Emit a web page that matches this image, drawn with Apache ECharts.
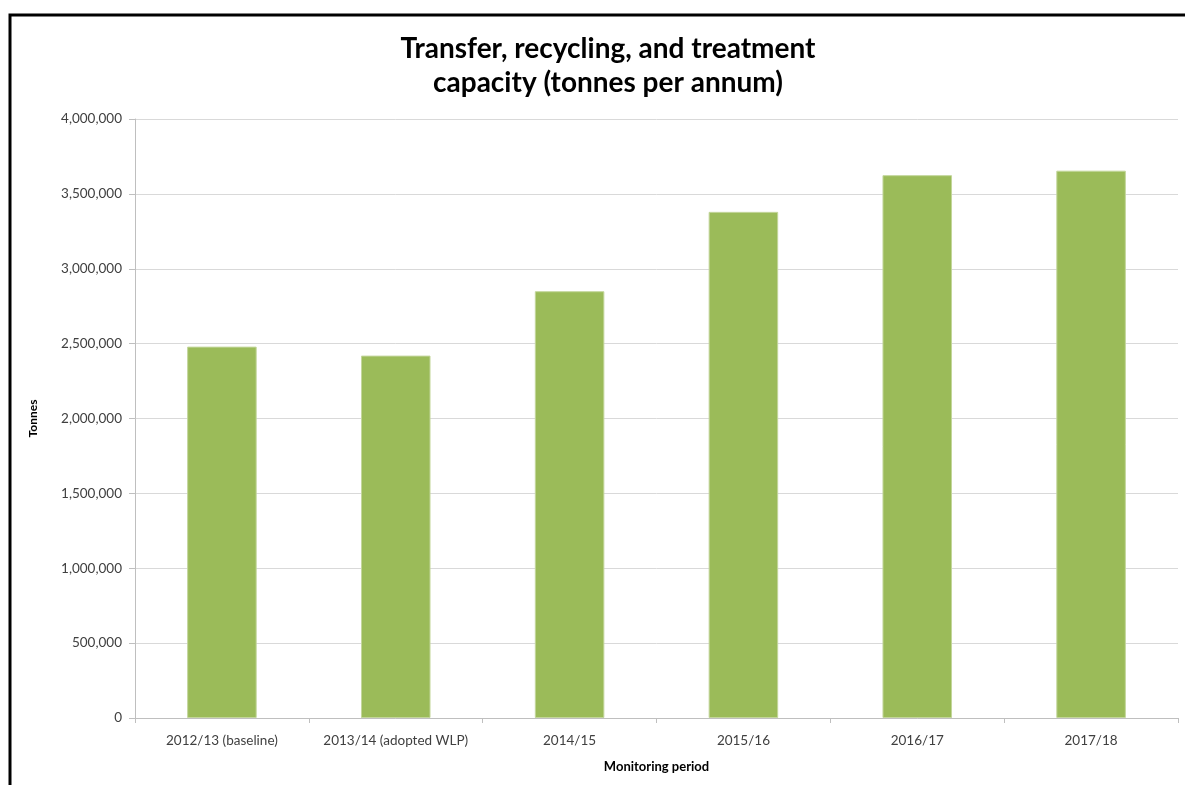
<!DOCTYPE html>
<html>
<head>
<meta charset="utf-8">
<script src="https://cdn.jsdelivr.net/npm/echarts@6/dist/echarts.min.js"></script>
<style>
html,body{margin:0;padding:0;background:#fff;}
#chart{width:1185px;height:785px;}
</style>
</head>
<body>
<div id="chart"></div>
<script>
const categories = ["2012/13 (baseline)", "2013/14 (adopted WLP)", "2014/15", "2015/16", "2016/17", "2017/18"];
const capacity = [2480000, 2420000, 2850000, 3380000, 3625000, 3655000];
const yTicks = { min: 0, max: 4000000, interval: 500000 };
const titleLines = ["Transfer, recycling, and treatment", "capacity (tonnes per annum)"];

const FONT = "Lato, 'Open Sans', sans-serif";
const chart = echarts.init(document.getElementById('chart'), null, {renderer: 'canvas'});
chart.setOption({
  animation: false,
  backgroundColor: '#ffffff',
  title: {
    text: titleLines.join('\n'),
    left: 603,
    top: 27,
    textAlign: 'center',
    textStyle: {fontFamily: FONT, fontWeight: 'bold', fontSize: 28, color: '#000', lineHeight: 34}
  },
  graphic: [{
    type: 'rect', silent: true, z: 100,
    shape: {x: 10, y: 15, width: 1400, height: 1000},
    style: {fill: 'none', stroke: '#000', lineWidth: 3}
  }],
  grid: {left: 135, right: 7, top: 119, bottom: 67, containLabel: false},
  xAxis: {
    type: 'category',
    data: categories,
    name: 'Monitoring period',
    nameLocation: 'middle',
    nameGap: 42,
    nameTextStyle: {fontFamily: FONT, fontWeight: 'bold', fontSize: 13, color: '#000'},
    axisLine: {lineStyle: {color: '#bfbfbf', width: 1}},
    axisTick: {show: true, alignWithLabel: false, length: 5, lineStyle: {color: '#bfbfbf'}},
    axisLabel: {interval: 0, fontFamily: FONT, fontSize: 13.5, color: '#404040', margin: 16},
    splitLine: {show: false}
  },
  yAxis: {
    type: 'value',
    min: yTicks.min, max: yTicks.max, interval: yTicks.interval,
    name: 'Tonnes',
    nameLocation: 'middle',
    nameGap: 96,
    nameRotate: 90,
    nameTextStyle: {fontFamily: FONT, fontWeight: 'bold', fontSize: 12, color: '#000'},
    axisLine: {show: true, lineStyle: {color: '#bfbfbf', width: 1}},
    axisTick: {show: true, length: 6, lineStyle: {color: '#bfbfbf'}},
    axisLabel: {
      fontFamily: FONT, fontSize: 13.5, color: '#404040', margin: 13,
      formatter: v => v.toLocaleString('en-US')
    },
    splitLine: {lineStyle: {color: '#d9d9d9', width: 1}}
  },
  series: [{
    type: 'bar',
    data: capacity,
    barCategoryGap: '60%',
    itemStyle: {color: '#9bbb59', borderColor: '#c3d69b', borderWidth: 1}
  }]
});
</script>
</body>
</html>
